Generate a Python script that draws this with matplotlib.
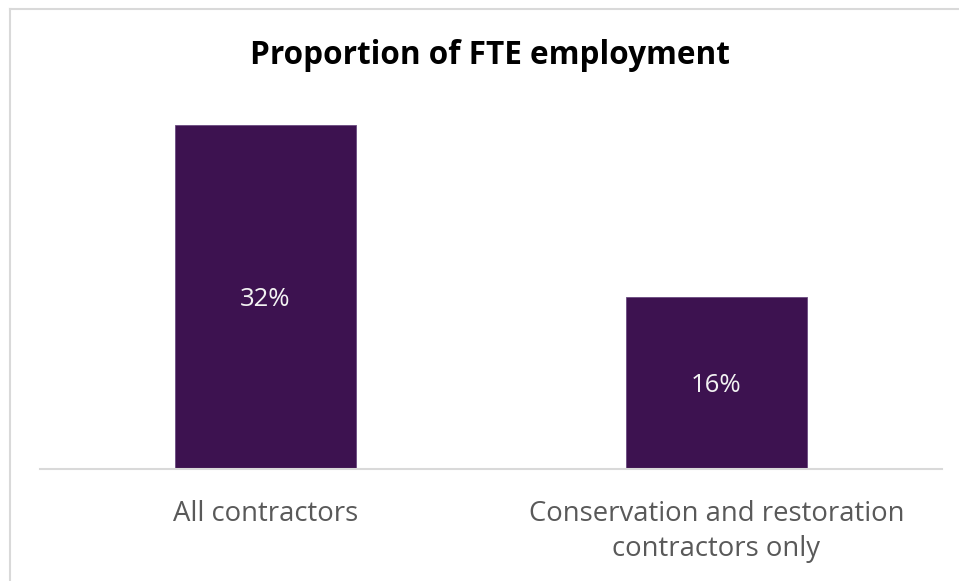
import matplotlib
matplotlib.use('Agg')
import matplotlib.pyplot as plt
from matplotlib.lines import Line2D

categories = ['All contractors', 'Conservation and restoration\ncontractors only']
shares = [32, 16]
value_labels = ['32%', '16%']

W, H = 959, 581
fig = plt.figure(figsize=(W / 100, H / 100), dpi=100)
fig.patch.set_facecolor('white')

# chart frame (left and top edges only visible)
fig.add_artist(Line2D([10 / W, 10 / W], [0, 1 - 9 / H], color='#d9d9d9', lw=1.5))
fig.add_artist(Line2D([10 / W, 1], [1 - 9 / H, 1 - 9 / H], color='#d9d9d9', lw=1.5))

# axes spans baseline (y=469px) to top of tallest bar
left, right = 40, 942
base, top = 469, 125
ax = fig.add_axes([left / W, (H - base) / H, (right - left) / W, (base - top) / H])

x = range(len(categories))
bars = ax.bar(x, shares, width=0.4, color='#3d1250', edgecolor='#6a4a80', linewidth=0.6)
ax.set_xlim(-0.5, len(categories) - 0.5)
ax.set_ylim(0, max(shares))

for bar, lbl in zip(bars, value_labels):
    ax.text(bar.get_x() + bar.get_width() / 2, bar.get_height() / 2 - 0.2, lbl,
            ha='center', va='center', color='#f2f2f2', fontsize=18.5, family='Open Sans')

ax.set_xticks(list(x))
ax.set_xticklabels(categories, fontsize=19.8, color='#595959', family='Open Sans',
                   linespacing=1.35)
ax.tick_params(axis='x', length=0, pad=22)
ax.set_yticks([])
for side in ['top', 'right', 'left']:
    ax.spines[side].set_visible(False)
ax.spines['bottom'].set_color('#d9d9d9')
ax.spines['bottom'].set_linewidth(1.5)

fig.text(490 / W, 1 - 56 / H, 'Proportion of FTE employment', ha='center', va='center',
         fontsize=22.7, fontweight='bold', color='black', family='Open Sans')

fig.savefig('out.png', dpi=100)
